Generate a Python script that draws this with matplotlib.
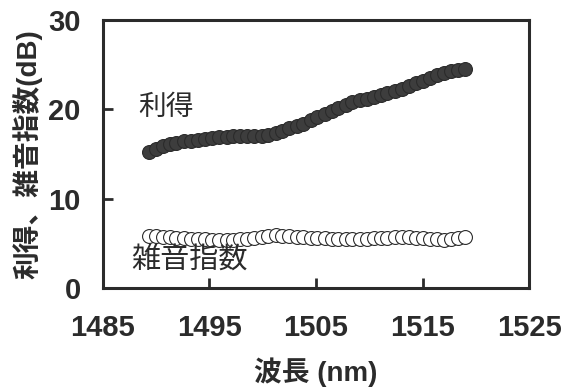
import matplotlib
matplotlib.use('Agg')
import matplotlib.pyplot as plt

# Wavelength (nm)
WAVELENGTH = [1489.3, 1490.0, 1490.6, 1491.3, 1491.9, 1492.6, 1493.3, 1493.9,
              1494.6, 1495.2, 1495.9, 1496.6, 1497.2, 1497.9, 1498.5, 1499.2,
              1499.9, 1500.5, 1501.2, 1501.8, 1502.5, 1503.2, 1503.8, 1504.5,
              1505.1, 1505.8, 1506.5, 1507.1, 1507.8, 1508.4, 1509.1, 1509.8,
              1510.4, 1511.1, 1511.7, 1512.4, 1513.1, 1513.7, 1514.4, 1515.0,
              1515.7, 1516.4, 1517.0, 1517.7, 1518.3, 1519.0]

# Gain (dB)
GAIN = [15.2, 15.6, 15.9, 16.1, 16.2, 16.4, 16.5, 16.6,
        16.7, 16.8, 16.9, 16.9, 17.0, 17.0, 17.0, 17.0,
        17.0, 17.1, 17.3, 17.6, 17.9, 18.1, 18.4, 18.8,
        19.1, 19.5, 19.8, 20.2, 20.5, 20.8, 21.0, 21.2,
        21.4, 21.6, 21.8, 22.0, 22.3, 22.6, 22.9, 23.2,
        23.5, 23.8, 24.1, 24.3, 24.4, 24.5]

# Noise figure (dB)
NOISE = [5.8, 5.8, 5.7, 5.7, 5.6, 5.6, 5.5, 5.5,
         5.5, 5.4, 5.4, 5.4, 5.4, 5.5, 5.5, 5.6,
         5.7, 5.8, 5.9, 5.8, 5.8, 5.7, 5.7, 5.6,
         5.6, 5.6, 5.5, 5.5, 5.5, 5.5, 5.5, 5.5,
         5.6, 5.6, 5.6, 5.7, 5.7, 5.7, 5.6, 5.6,
         5.5, 5.5, 5.4, 5.5, 5.6, 5.7]

X_TICKS = [1485, 1495, 1505, 1515, 1525]
Y_TICKS = [0, 10, 20, 30]

FONTS = ['Liberation Sans', 'Noto Sans CJK JP']
DARK = '#2b2b2b'

fig = plt.figure(figsize=(5.64, 3.92), dpi=100)
ax = fig.add_axes([0.1826, 0.2653, 0.7554, 0.6837])

ax.plot(WAVELENGTH, GAIN, 'o', ms=10, color='#3d3d3d', mec=DARK, mew=0.8)
ax.plot(WAVELENGTH, NOISE, 'o', ms=10, mfc='white', mec=DARK, mew=0.8)

ax.text(1490.9, 20.2, '利得', family=FONTS, fontsize=20, color=DARK,
        ha='center', va='center')
ax.text(1493.1, 3.1, '雑音指数', family=FONTS, fontsize=21, color=DARK,
        ha='center', va='center')

ax.set_xlim(1485, 1525)
ax.set_ylim(0, 30)
ax.set_xticks(X_TICKS)
ax.set_yticks(Y_TICKS)
for spine in ax.spines.values():
    spine.set_linewidth(2.2)
    spine.set_color(DARK)
ax.tick_params(direction='in', length=7, width=2, color=DARK,
               labelsize=21, labelcolor=DARK, top=False, right=False)
ax.tick_params(axis='x', pad=19)
ax.tick_params(axis='y', pad=16)
for lbl in ax.get_xticklabels() + ax.get_yticklabels():
    lbl.set_family(FONTS)
    lbl.set_fontweight('bold')

ax.set_xlabel('波長 (nm)', family=FONTS, fontsize=20, fontweight='bold',
              color=DARK, labelpad=11)
ax.set_ylabel('利得、雑音指数(dB)', family=FONTS, fontsize=20,
              fontweight='bold', color=DARK, labelpad=4)

fig.savefig('out.png', dpi=100)
